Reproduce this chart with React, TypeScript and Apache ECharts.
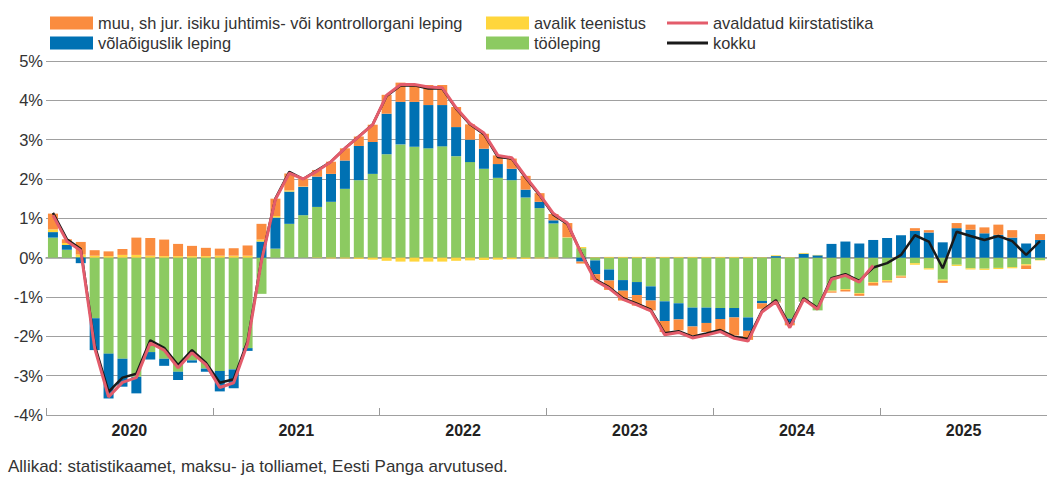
import React, { useEffect, useRef } from "react";
import * as echarts from "echarts";

const years = ["2020", "2021", "2022", "2023", "2024", "2025"];
const months: string[] = [];
years.forEach((y) => {
  for (let m = 1; m <= 12; m++) months.push(`${y}-${String(m).padStart(2, "0")}`);
});

const NAME_MUU = "muu, sh jur. isiku juhtimis- või kontrollorgani leping";
const NAME_VOLA = "võlaõiguslik leping";
const NAME_AVALIK = "avalik teenistus";
const NAME_TOO = "tööleping";
const NAME_KIIR = "avaldatud kiirstatistika";
const NAME_KOKKU = "kokku";

// tööleping (green)
const tooleping = [
  0.51, 0.2, 0.02, -1.54, -2.44, -2.57, -3.03, -2.4, -2.57, -2.9, -2.61, -2.82,
  -2.88, -2.84, -2.3, -0.92, 0.23, 0.86, 1.08, 1.29, 1.42, 1.75, 1.97, 2.13,
  2.63, 2.88, 2.82, 2.78, 2.83, 2.58, 2.43, 2.26, 2.03, 1.97, 1.53, 1.26,
  0.87, 0.51, 0.24, -0.07, -0.3, -0.57, -0.62, -0.73, -1.11, -1.16, -1.27, -1.27,
  -1.28, -1.28, -1.52, -1.1, -1.12, -1.55, -1.12, -1.34, -0.84, -0.8, -0.9, -0.62,
  -0.57, -0.46, -0.14, -0.27, -0.56, -0.18, -0.27, -0.28, -0.26, -0.24, -0.17, -0.06,
];
// võlaõiguslik leping (blue)
const volaoiguslik = [
  0.14, 0.12, -0.14, -0.81, -1.14, -0.71, -0.42, -0.19, -0.18, -0.21, -0.06, -0.08,
  -0.52, -0.48, -0.07, 0.41, 0.79, 0.82, 0.72, 0.77, 0.71, 0.72, 0.87, 0.81,
  1.03, 1.08, 1.14, 1.1, 1.05, 0.74, 0.57, 0.51, 0.35, 0.29, 0.2, 0.16,
  0.08, 0.0, -0.1, -0.35, -0.28, -0.27, -0.33, -0.36, -0.5, -0.41, -0.48, -0.39,
  -0.28, -0.24, -0.34, -0.06, 0.04, -0.1, 0.1, 0.06, 0.35, 0.41, 0.36, 0.45,
  0.5, 0.57, 0.68, 0.64, 0.39, 0.75, 0.71, 0.62, 0.58, 0.51, 0.36, 0.45,
];
// avalik teenistus (yellow)
const avalik = [
  0.07, 0.05, 0.06, 0.05, 0.04, 0.07, 0.07, 0.05, 0.04, 0.04, 0.04, 0.04,
  0.05, 0.05, 0.05, 0.05, 0.04, 0.03, 0.01, -0.01, -0.02, -0.02, -0.03, -0.05,
  -0.08, -0.1, -0.1, -0.1, -0.1, -0.08, -0.07, -0.06, -0.05, -0.04, -0.03, -0.02,
  -0.02, 0.01, 0.03, 0.01, 0.02, 0.02, 0.02, 0.02, 0.02, 0.02, 0.02, 0.02,
  0.02, 0.02, 0.02, 0.01, 0.02, 0.01, 0.02, 0.01, -0.02, -0.02, -0.02, -0.02,
  -0.03, -0.02, -0.04, -0.03, -0.03, -0.03, -0.03, -0.03, -0.03, -0.03, -0.03, -0.01,
];
// muu, sh jur. isiku juhtimis- või kontrollorgani leping (orange)
const muu = [
  0.4, 0.1, 0.32, 0.14, 0.12, 0.15, 0.44, 0.45, 0.42, 0.31, 0.26, 0.21,
  0.18, 0.19, 0.26, 0.4, 0.44, 0.43, 0.2, 0.17, 0.31, 0.31, 0.24, 0.44,
  0.48, 0.49, 0.44, 0.51, 0.51, 0.51, 0.39, 0.38, 0.22, 0.26, 0.35, 0.22,
  0.16, 0.36, -0.05, -0.15, -0.24, -0.25, -0.27, -0.25, -0.28, -0.28, -0.22, -0.23,
  -0.3, -0.46, -0.23, -0.14, -0.02, -0.07, 0.0, 0.0, -0.03, -0.04, -0.05, -0.07,
  -0.03, -0.03, 0.07, 0.06, -0.05, 0.13, 0.13, 0.15, 0.26, 0.19, -0.09, 0.15,
];
// kokku (black line)
const kokku = [
  1.14, 0.47, 0.22, -2.22, -3.41, -3.05, -2.95, -2.1, -2.29, -2.73, -2.35, -2.67,
  -3.18, -3.09, -2.12, -0.05, 1.5, 2.18, 2.0, 2.22, 2.44, 2.78, 3.08, 3.39,
  4.11, 4.38, 4.38, 4.3, 4.3, 3.79, 3.39, 3.14, 2.56, 2.52, 2.03, 1.59,
  1.09, 0.86, 0.12, -0.55, -0.75, -1.03, -1.17, -1.32, -1.92, -1.87, -2.01, -1.93,
  -1.84, -2.01, -2.07, -1.35, -1.08, -1.73, -1.03, -1.28, -0.52, -0.42, -0.59, -0.25,
  -0.14, 0.07, 0.57, 0.41, -0.27, 0.66, 0.55, 0.45, 0.55, 0.42, 0.07, 0.42,
];
// avaldatud kiirstatistika (red line)
const kiirstatistika: (number | null)[] = [
  1.08, 0.42, 0.18, -2.3, -3.54, -3.17, -3.05, -2.17, -2.35, -2.8, -2.42, -2.72,
  -3.3, -3.18, -2.18, -0.08, 1.48, 2.15, 2.0, 2.2, 2.44, 2.78, 3.08, 3.38,
  4.13, 4.4, 4.4, 4.34, 4.32, 3.81, 3.41, 3.17, 2.6, 2.54, 2.06, 1.61,
  1.12, 0.88, 0.1, -0.58, -0.78, -1.06, -1.2, -1.35, -1.96, -1.9, -2.04, -1.97,
  -1.88, -2.05, -2.12, -1.38, -1.12, -1.78, -1.06, -1.31, -0.55, -0.45, -0.62, -0.2,
  null, null, null, null, null, null, null, null, null, null, null, null,
];

const C_ORANGE = "#FA8C3F";
const C_YELLOW = "#FFD63C";
const C_BLUE = "#0071B3";
const C_GREEN = "#8CCA61";
const C_RED = "#E35C6B";
const C_BLACK = "#1A1A1A";
const FONT = "Liberation Sans";

export default function App() {
  const ref = useRef<HTMLDivElement>(null);
  useEffect(() => {
    if (!ref.current) return;
    const chart = echarts.init(ref.current, null, { renderer: "svg" });
    const barBase = {
      type: "bar" as const,
      stack: "total",
      barWidth: 10,
      xAxisIndex: 0,
    };
    const legendCommon = {
      orient: "vertical" as const,
      top: 10,
      itemWidth: 43,
      itemHeight: 13,
      itemGap: 4,
      icon: "rect",
      textStyle: { fontSize: 16.4, color: "#333", fontFamily: FONT },
    };
    chart.setOption({
      animation: false,
      backgroundColor: "#fff",
      textStyle: { fontFamily: FONT },
      legend: [
        { ...legendCommon, left: 45, data: [NAME_MUU, NAME_VOLA] },
        { ...legendCommon, left: 481, data: [NAME_AVALIK, NAME_TOO] },
        {
          ...legendCommon,
          left: 662,
          itemWidth: 41,
          data: [
            { name: NAME_KIIR, icon: "path://M0,0L40,0L40,3L0,3Z" },
            { name: NAME_KOKKU, icon: "path://M0,0L40,0L40,3L0,3Z" },
          ],
        },
      ],
      grid: { left: 46, right: -10, top: 61, bottom: 72 },
      xAxis: [
        {
          type: "category",
          data: months,
          boundaryGap: true,
          axisLine: { show: true, lineStyle: { color: "#999", width: 1.5 } },
          axisTick: { show: false },
          axisLabel: { show: false },
          splitLine: { show: false },
        },
        {
          type: "category",
          data: years,
          position: "bottom",
          boundaryGap: true,
          axisLine: { show: false },
          axisTick: {
            show: true,
            inside: true,
            length: 7,
            lineStyle: { color: "#999", width: 1 },
          },
          axisLabel: {
            show: true,
            fontSize: 16,
            fontWeight: "bold",
            color: "#222",
            margin: 7,
            fontFamily: FONT,
          },
          splitLine: { show: false },
        },
      ],
      yAxis: {
        type: "value",
        min: -4,
        max: 5,
        interval: 1,
        axisLine: { show: false },
        axisTick: { show: false },
        axisLabel: {
          formatter: "{value}%",
          fontSize: 16.5,
          color: "#333",
          margin: 3,
          fontFamily: FONT,
        },
        splitLine: { lineStyle: { color: "#A0A0A0", width: 1.2 } },
      },
      series: [
        { ...barBase, name: NAME_TOO, data: tooleping, itemStyle: { color: C_GREEN } },
        { ...barBase, name: NAME_VOLA, data: volaoiguslik, itemStyle: { color: C_BLUE } },
        { ...barBase, name: NAME_AVALIK, data: avalik, itemStyle: { color: C_YELLOW } },
        { ...barBase, name: NAME_MUU, data: muu, itemStyle: { color: C_ORANGE } },
        {
          type: "line",
          name: NAME_KOKKU,
          data: kokku,
          symbol: "none",
          itemStyle: { color: C_BLACK },
          lineStyle: { color: C_BLACK, width: 2.5 },
          z: 5,
        },
        {
          type: "line",
          name: NAME_KIIR,
          data: kiirstatistika,
          symbol: "none",
          connectNulls: false,
          itemStyle: { color: C_RED },
          lineStyle: { color: C_RED, width: 3 },
          z: 6,
        },
      ],
      graphic: [
        {
          type: "text",
          left: 8,
          top: 458,
          style: {
            text: "Allikad: statistikaamet, maksu- ja tolliamet, Eesti Panga arvutused.",
            fontSize: 17,
            fill: "#333",
            fontFamily: FONT,
          },
        },
      ],
    });
    return () => chart.dispose();
  }, []);
  return (
    <div
      ref={ref}
      style={{ position: "fixed", left: 0, top: 0, width: 1047, height: 487, background: "#fff" }}
    />
  );
}
